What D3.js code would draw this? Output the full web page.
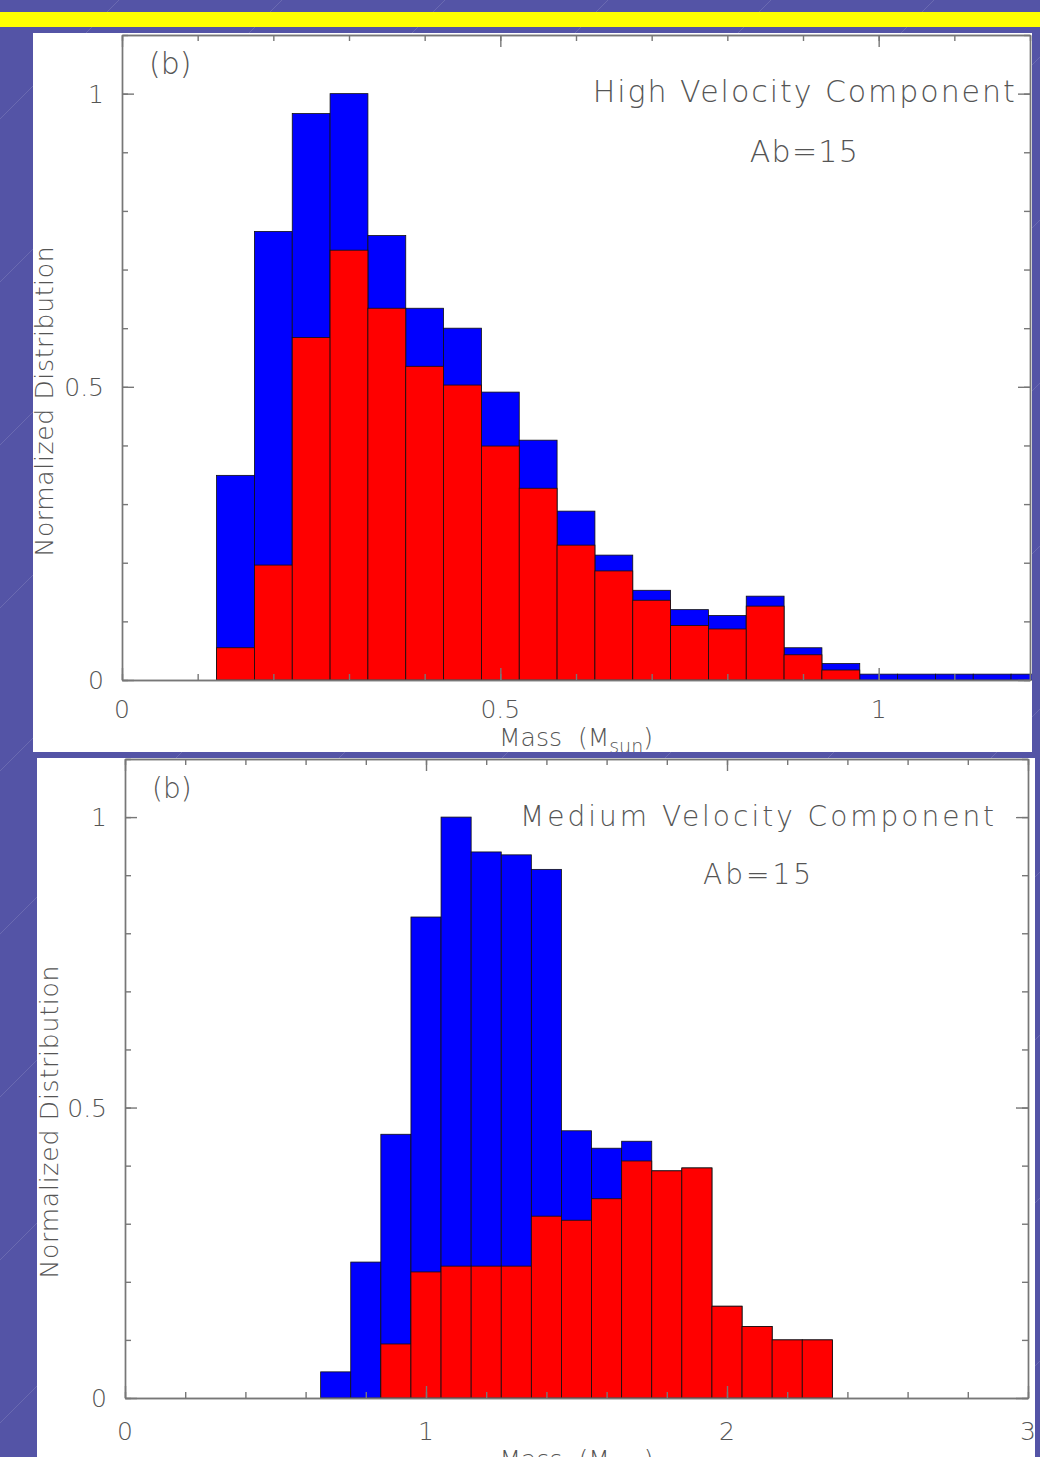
<!DOCTYPE html>
<html>
<head>
<meta charset="utf-8">
<script src="https://cdn.jsdelivr.net/npm/d3@7"></script>
<style>
  body { margin: 0; background: #5454a6; }
  svg { display: block; }
  text { font-family: "DejaVu Sans", sans-serif; font-weight: 200; fill: #555; white-space: pre; }
</style>
</head>
<body>
<svg id="chart" width="1040" height="1457"></svg>
<script>
// High velocity component (top panel), bins 0.05 Msun wide
var highMass = [0.15, 0.2, 0.25, 0.3, 0.35, 0.4, 0.45, 0.5, 0.55, 0.6, 0.65,
    0.7, 0.75, 0.8, 0.85, 0.9, 0.95, 1.0, 1.05, 1.1, 1.15, 1.2];
var highBlue = [0.349, 0.765, 0.966, 1.0, 0.758, 0.634, 0.600, 0.491, 0.409, 0.288, 0.213,
    0.153, 0.120, 0.110, 0.143, 0.055, 0.028, 0.010, 0.010, 0.010, 0.010, 0.010];
var highRed = [0.055, 0.196, 0.584, 0.733, 0.634, 0.535, 0.503, 0.399, 0.327, 0.230, 0.186,
    0.136, 0.093, 0.087, 0.126, 0.043, 0.017, 0, 0, 0, 0, 0];
var highXTicks = [0, 0.5, 1];
var highXLabels = ["0", "0.5", "1"];

// Medium velocity component (bottom panel), bins 0.1 Msun wide
var medMass = [0.7, 0.8, 0.9, 1.0, 1.1, 1.2, 1.3, 1.4, 1.5, 1.6, 1.7, 1.8, 1.9, 2.0, 2.1, 2.2, 2.3];
var medBlue = [0.045, 0.234, 0.454, 0.828, 1.0, 0.940, 0.935, 0.910, 0.460, 0.430, 0.442,
    0.391, 0.396, 0.158, 0.123, 0.100, 0.100];
var medRed = [0, 0, 0.093, 0.217, 0.227, 0.227, 0.227, 0.313, 0.306, 0.343, 0.408,
    0.391, 0.396, 0.158, 0.123, 0.100, 0.100];
var medXTicks = [0, 1, 2, 3];
var medXLabels = ["0", "1", "2", "3"];

var yTicks = [0, 0.5, 1];
var yLabels = ["0", "0.5", "1"];

var svg = d3.select('#chart');

// slide background: faint diagonal streaks and the yellow band
svg.append('g')
    .selectAll('line')
    .data(d3.range(0, 16))
    .enter()
    .append('line')
    .attr('x1', function (k) { return 119 + 163 * k; })
    .attr('y1', 0)
    .attr('x2', 0)
    .attr('y2', function (k) { return 119 + 163 * k; })
    .attr('stroke', 'rgba(255,255,255,0.13)')
    .attr('stroke-width', 1);

svg.append('rect')
    .attr('x', 0).attr('y', 12)
    .attr('width', 1040).attr('height', 15)
    .attr('fill', '#ffff00');

function drawPanel(cfg) {
    var g = svg.append('g');

    g.append('rect')
        .attr('x', cfg.card[0]).attr('y', cfg.card[1])
        .attr('width', cfg.card[2]).attr('height', cfg.card[3])
        .attr('fill', '#fff');

    svg.append('clipPath').attr('id', cfg.id)
        .append('rect')
        .attr('x', cfg.card[0]).attr('y', cfg.card[1])
        .attr('width', cfg.card[2]).attr('height', cfg.card[3]);

    var x = d3.scaleLinear().domain(cfg.xDomain).range([cfg.left, cfg.right]);
    var y = d3.scaleLinear().domain([0, 1.1]).range([cfg.bottom, cfg.top]);
    var half = cfg.binWidth / 2;

    var inner = g.append('g').attr('clip-path', 'url(#' + cfg.id + ')');

    function bars(values, color) {
        inner.append('g')
            .selectAll('rect')
            .data(cfg.mass.map(function (m, i) { return { m: m, v: values[i] }; })
                .filter(function (d) { return d.v > 0; }))
            .enter()
            .append('rect')
            .attr('x', function (d) { return x(d.m - half); })
            .attr('width', function (d) { return x(d.m + half) - x(d.m - half); })
            .attr('y', function (d) { return y(d.v); })
            .attr('height', function (d) { return y(0) - y(d.v); })
            .attr('fill', color)
            .attr('stroke', '#111')
            .attr('stroke-width', 0.8);
    }
    bars(cfg.blue, '#0000ff');
    bars(cfg.red, '#ff0000');

    // frame with inward ticks on all four sides
    var axisColor = '#777';
    function axis(gen, tx, ty) {
        var a = inner.append('g')
            .attr('transform', 'translate(' + tx + ',' + ty + ')')
            .call(gen);
        a.selectAll('path, line').attr('stroke', axisColor).attr('stroke-width', 1.4);
        a.selectAll('text').remove();
    }
    var xMinor = d3.range(0, Math.round(cfg.xDomain[1] / cfg.xMinor) + 1)
        .map(function (i) { return +(i * cfg.xMinor).toFixed(2); });
    var yMinor = d3.range(0, 12).map(function (i) { return +(i * 0.1).toFixed(1); });

    axis(d3.axisBottom(x).tickValues(xMinor).tickSize(-6).tickSizeOuter(0), 0, cfg.bottom);
    axis(d3.axisBottom(x).tickValues(cfg.xTicks).tickSize(-12).tickSizeOuter(0), 0, cfg.bottom);
    axis(d3.axisTop(x).tickValues(xMinor).tickSize(-6).tickSizeOuter(0), 0, cfg.top);
    axis(d3.axisTop(x).tickValues(cfg.xTicks).tickSize(-12).tickSizeOuter(0), 0, cfg.top);
    axis(d3.axisLeft(y).tickValues(yMinor).tickSize(-6).tickSizeOuter(0), cfg.left, 0);
    axis(d3.axisLeft(y).tickValues(yTicks).tickSize(-12).tickSizeOuter(0), cfg.left, 0);
    axis(d3.axisRight(y).tickValues(yMinor).tickSize(-6).tickSizeOuter(0), cfg.right, 0);
    axis(d3.axisRight(y).tickValues(yTicks).tickSize(-12).tickSizeOuter(0), cfg.right, 0);

    var labels = inner.append('g');

    labels.selectAll('text.xl')
        .data(cfg.xTicks)
        .enter()
        .append('text')
        .attr('class', 'xl')
        .attr('x', function (d) { return x(d); })
        .attr('y', cfg.bottom + cfg.xLabelGap)
        .attr('text-anchor', 'middle')
        .attr('font-size', 25)
        .text(function (d, i) { return cfg.xLabels[i]; });

    labels.selectAll('text.yl')
        .data(yTicks)
        .enter()
        .append('text')
        .attr('class', 'yl')
        .attr('x', cfg.left - 18)
        .attr('y', function (d) { return y(d) + 9; })
        .attr('text-anchor', 'end')
        .attr('font-size', 25)
        .text(function (d, i) { return yLabels[i]; });

    var xt = labels.append('text')
        .attr('x', (cfg.left + cfg.right) / 2)
        .attr('y', cfg.bottom + cfg.xTitleGap)
        .attr('text-anchor', 'middle')
        .attr('font-size', 25);
    xt.append('tspan').text('Mass  (M');
    xt.append('tspan').attr('dy', 7).attr('font-size', 19).text('sun');
    xt.append('tspan').attr('dy', -7).text(')');

    labels.append('text')
        .attr('transform', 'translate(' + (cfg.left - cfg.yTitleGap) + ',' + y(0.475) + ') rotate(-90)')
        .attr('text-anchor', 'middle')
        .attr('font-size', 25)
        .attr('textLength', cfg.yTitleLen)
        .attr('lengthAdjust', 'spacing')
        .text('Normalized Distribution');

    labels.append('text')
        .attr('x', cfg.left + 27)
        .attr('y', cfg.top + 39)
        .attr('font-size', cfg.bigFont)
        .text('(b)');

    labels.append('text')
        .attr('x', x(cfg.titleX))
        .attr('y', y(0.985))
        .attr('text-anchor', 'middle')
        .attr('font-size', cfg.bigFont)
        .attr('textLength', cfg.titleLen)
        .attr('lengthAdjust', 'spacing')
        .text(cfg.title);

    labels.append('text')
        .attr('x', x(cfg.titleX))
        .attr('y', y(0.884))
        .attr('text-anchor', 'middle')
        .attr('font-size', cfg.bigFont)
        .attr('textLength', 108)
        .attr('lengthAdjust', 'spacing')
        .text('Ab=15');
}

drawPanel({
    id: 'clipHigh',
    card: [33, 33, 999, 719],
    left: 122, right: 1030, top: 35, bottom: 680,
    xDomain: [0, 1.2], xMinor: 0.1, binWidth: 0.05,
    mass: highMass, blue: highBlue, red: highRed,
    xTicks: highXTicks, xLabels: highXLabels,
    xLabelGap: 38, xTitleGap: 66, yTitleGap: 69, yTitleLen: 310,
    bigFont: 30, title: 'High Velocity Component', titleX: 0.901, titleLen: 422
});

drawPanel({
    id: 'clipMed',
    card: [37, 758, 998, 699],
    left: 125, right: 1028, top: 759, bottom: 1398,
    xDomain: [0, 3], xMinor: 0.2, binWidth: 0.1,
    mass: medMass, blue: medBlue, red: medRed,
    xTicks: medXTicks, xLabels: medXLabels,
    xLabelGap: 42, xTitleGap: 70, yTitleGap: 67, yTitleLen: 313,
    bigFont: 28, title: 'Medium Velocity Component', titleX: 2.1, titleLen: 474
});
</script>
</body>
</html>
